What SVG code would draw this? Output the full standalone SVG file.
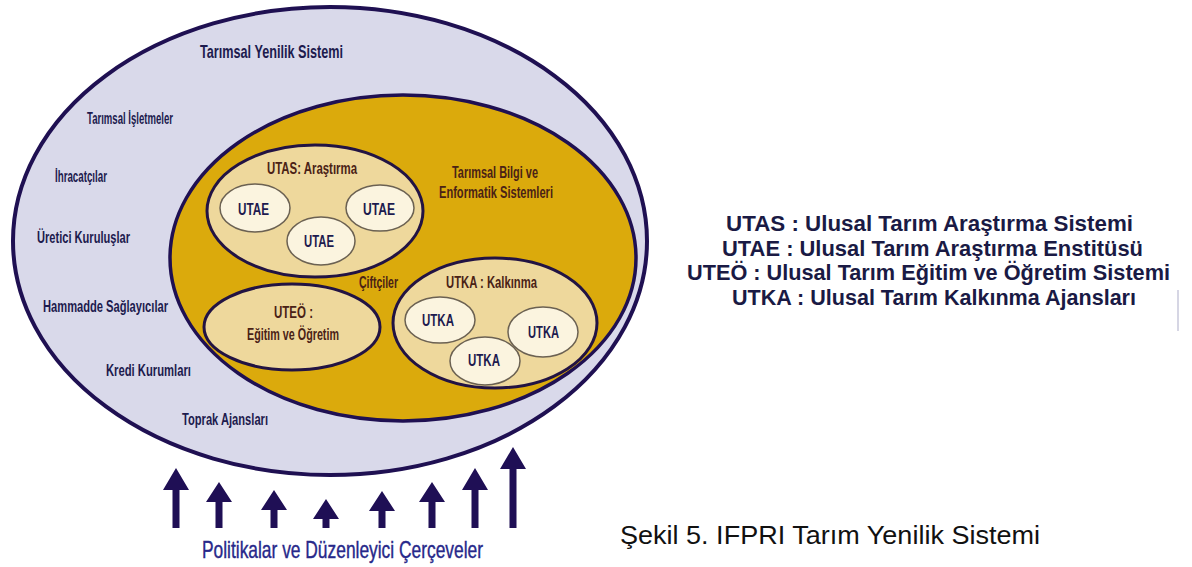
<svg xmlns="http://www.w3.org/2000/svg" width="1192" height="567" viewBox="0 0 1192 567">
  <style>
    .lbl { font-family: "Liberation Sans Narrow", "Liberation Sans", Arial, sans-serif; font-weight: bold; }
    .navy { fill: #1d1b4e; }
    .brown { fill: #4a2216; }
    .outer { fill: #d9d9ea; stroke: #1f1052; stroke-width: 4; }
    .gold { fill: #dbaa0c; stroke: #1f1052; stroke-width: 3.5; }
    .group { fill: #eed89c; stroke: #221343; stroke-width: 3; }
    .unit { fill: #fbf4df; stroke: #6b6152; stroke-width: 1.5; }
    .arrow { fill: #1f0f55; }
    .legend { font-family: "Liberation Sans", Arial, sans-serif; font-weight: bold; font-size: 22px; fill: #1a1a44; }
    .caption { font-family: "Liberation Sans", Arial, sans-serif; font-size: 26px; fill: #111111; }
  </style>

  <rect x="0" y="0" width="1192" height="567" fill="#ffffff"/>

  <!-- Agricultural innovation system (outer ring) -->
  <g id="yenilik-sistemi">
    <ellipse class="outer" cx="330" cy="241" rx="317" ry="234"/>
    <text class="lbl navy" x="200" y="58" font-size="19" textLength="143" lengthAdjust="spacingAndGlyphs">Tarımsal Yenilik Sistemi</text>
  </g>

  <g id="aktorler">
    <text class="lbl navy" x="87" y="124" font-size="16" textLength="86" lengthAdjust="spacingAndGlyphs">Tarımsal İşletmeler</text>
    <text class="lbl navy" x="55" y="182" font-size="16" textLength="52" lengthAdjust="spacingAndGlyphs">İhracatçılar</text>
    <text class="lbl navy" x="37" y="243" font-size="16" textLength="93" lengthAdjust="spacingAndGlyphs">Üretici Kuruluşlar</text>
    <text class="lbl navy" x="43" y="312" font-size="16" textLength="125" lengthAdjust="spacingAndGlyphs">Hammadde Sağlayıcılar</text>
    <text class="lbl navy" x="106" y="376" font-size="16" textLength="85" lengthAdjust="spacingAndGlyphs">Kredi Kurumları</text>
    <text class="lbl navy" x="182" y="425" font-size="16" textLength="86" lengthAdjust="spacingAndGlyphs">Toprak Ajansları</text>
  </g>

  <!-- Agricultural knowledge and information systems -->
  <g id="bilgi-sistemleri">
    <ellipse class="gold" cx="403" cy="258" rx="233" ry="163"/>
    <text class="lbl brown" x="452" y="178" font-size="16" textLength="86" lengthAdjust="spacingAndGlyphs">Tarımsal Bilgi ve</text>
    <text class="lbl brown" x="439" y="198" font-size="16" textLength="114" lengthAdjust="spacingAndGlyphs">Enformatik Sistemleri</text>
    <text class="lbl brown" x="359" y="288" font-size="16" textLength="39" lengthAdjust="spacingAndGlyphs">Çiftçiler</text>
  </g>

  <!-- Research -->
  <g id="utas">
    <ellipse class="group" cx="315" cy="211" rx="108" ry="66"/>
    <text class="lbl brown" x="267" y="174" font-size="16" textLength="90" lengthAdjust="spacingAndGlyphs">UTAS: Araştırma</text>
  </g>
  <g id="utae-1">
    <ellipse class="unit" cx="255" cy="208" rx="35" ry="24"/>
    <text class="lbl navy" x="238" y="215" font-size="17" textLength="31" lengthAdjust="spacingAndGlyphs">UTAE</text>
  </g>
  <g id="utae-2">
    <ellipse class="unit" cx="380" cy="208" rx="34" ry="23"/>
    <text class="lbl navy" x="363" y="215" font-size="17" textLength="32" lengthAdjust="spacingAndGlyphs">UTAE</text>
  </g>
  <g id="utae-3">
    <ellipse class="unit" cx="321" cy="241" rx="34" ry="24"/>
    <text class="lbl navy" x="304" y="247" font-size="17" textLength="30" lengthAdjust="spacingAndGlyphs">UTAE</text>
  </g>

  <!-- Education -->
  <g id="uteo">
    <ellipse class="group" cx="292" cy="327" rx="88" ry="43"/>
    <text class="lbl brown" x="274" y="318" font-size="16" textLength="39" lengthAdjust="spacingAndGlyphs">UTEÖ :</text>
    <text class="lbl brown" x="247" y="340" font-size="16" textLength="92" lengthAdjust="spacingAndGlyphs">Eğitim ve Öğretim</text>
  </g>

  <!-- Extension -->
  <g id="utka">
    <ellipse class="group" cx="495" cy="323" rx="102" ry="65"/>
    <text class="lbl brown" x="446" y="288" font-size="16" textLength="91" lengthAdjust="spacingAndGlyphs">UTKA : Kalkınma</text>
  </g>
  <g id="utka-1">
    <ellipse class="unit" cx="440" cy="320" rx="35" ry="23"/>
    <text class="lbl navy" x="422" y="326" font-size="17" textLength="32" lengthAdjust="spacingAndGlyphs">UTKA</text>
  </g>
  <g id="utka-2">
    <ellipse class="unit" cx="543" cy="332" rx="35" ry="25"/>
    <text class="lbl navy" x="528" y="338" font-size="17" textLength="31" lengthAdjust="spacingAndGlyphs">UTKA</text>
  </g>
  <g id="utka-3">
    <ellipse class="unit" cx="485" cy="361" rx="35" ry="24"/>
    <text class="lbl navy" x="468" y="366" font-size="17" textLength="32" lengthAdjust="spacingAndGlyphs">UTKA</text>
  </g>

  <!-- Policy arrows pushing up into the system -->
  <g id="connectors">
    <path class="arrow" d="M176,468 L189,490 L179.5,490 L179.5,528 L172.5,528 L172.5,490 L163,490 Z"/>
    <path class="arrow" d="M219,482 L232,502 L222.5,502 L222.5,528 L215.5,528 L215.5,502 L206,502 Z"/>
    <path class="arrow" d="M274,490 L287,510 L277.5,510 L277.5,528 L270.5,528 L270.5,510 L261,510 Z"/>
    <path class="arrow" d="M326,499 L339,519 L329.5,519 L329.5,528 L322.5,528 L322.5,519 L313,519 Z"/>
    <path class="arrow" d="M382,491 L395,511 L385.5,511 L385.5,528 L378.5,528 L378.5,511 L369,511 Z"/>
    <path class="arrow" d="M432,482 L445,502 L435.5,502 L435.5,528 L428.5,528 L428.5,502 L419,502 Z"/>
    <path class="arrow" d="M475,468 L488,490 L478.5,490 L478.5,528 L471.5,528 L471.5,490 L462,490 Z"/>
    <path class="arrow" d="M513,447 L526,469 L516.5,469 L516.5,528 L509.5,528 L509.5,469 L500,469 Z"/>
  </g>

  <g id="politikalar">
    <text x="202" y="558" font-family="Liberation Sans Narrow, Liberation Sans, Arial, sans-serif" font-size="24" fill="#27288a" stroke="#27288a" stroke-width="0.4" textLength="281" lengthAdjust="spacingAndGlyphs">Politikalar ve Düzenleyici Çerçeveler</text>
  </g>

  <!-- Abbreviation key -->
  <g id="kisaltmalar">
    <text class="legend" x="726" y="231" textLength="407" lengthAdjust="spacingAndGlyphs">UTAS : Ulusal Tarım Araştırma Sistemi</text>
    <text class="legend" x="722" y="256" textLength="421" lengthAdjust="spacingAndGlyphs">UTAE : Ulusal Tarım Araştırma Enstitüsü</text>
    <text class="legend" x="687" y="280" textLength="483" lengthAdjust="spacingAndGlyphs">UTEÖ : Ulusal Tarım Eğitim ve Öğretim Sistemi</text>
    <text class="legend" x="732" y="305" textLength="404" lengthAdjust="spacingAndGlyphs">UTKA : Ulusal Tarım Kalkınma Ajansları</text>
    <line x1="1178" y1="290" x2="1178" y2="331" stroke="#d6d6e4" stroke-width="2"/>
  </g>

  <g id="baslik">
    <text class="caption" x="620" y="544" textLength="420" lengthAdjust="spacingAndGlyphs">Şekil 5. IFPRI Tarım Yenilik Sistemi</text>
  </g>
</svg>
